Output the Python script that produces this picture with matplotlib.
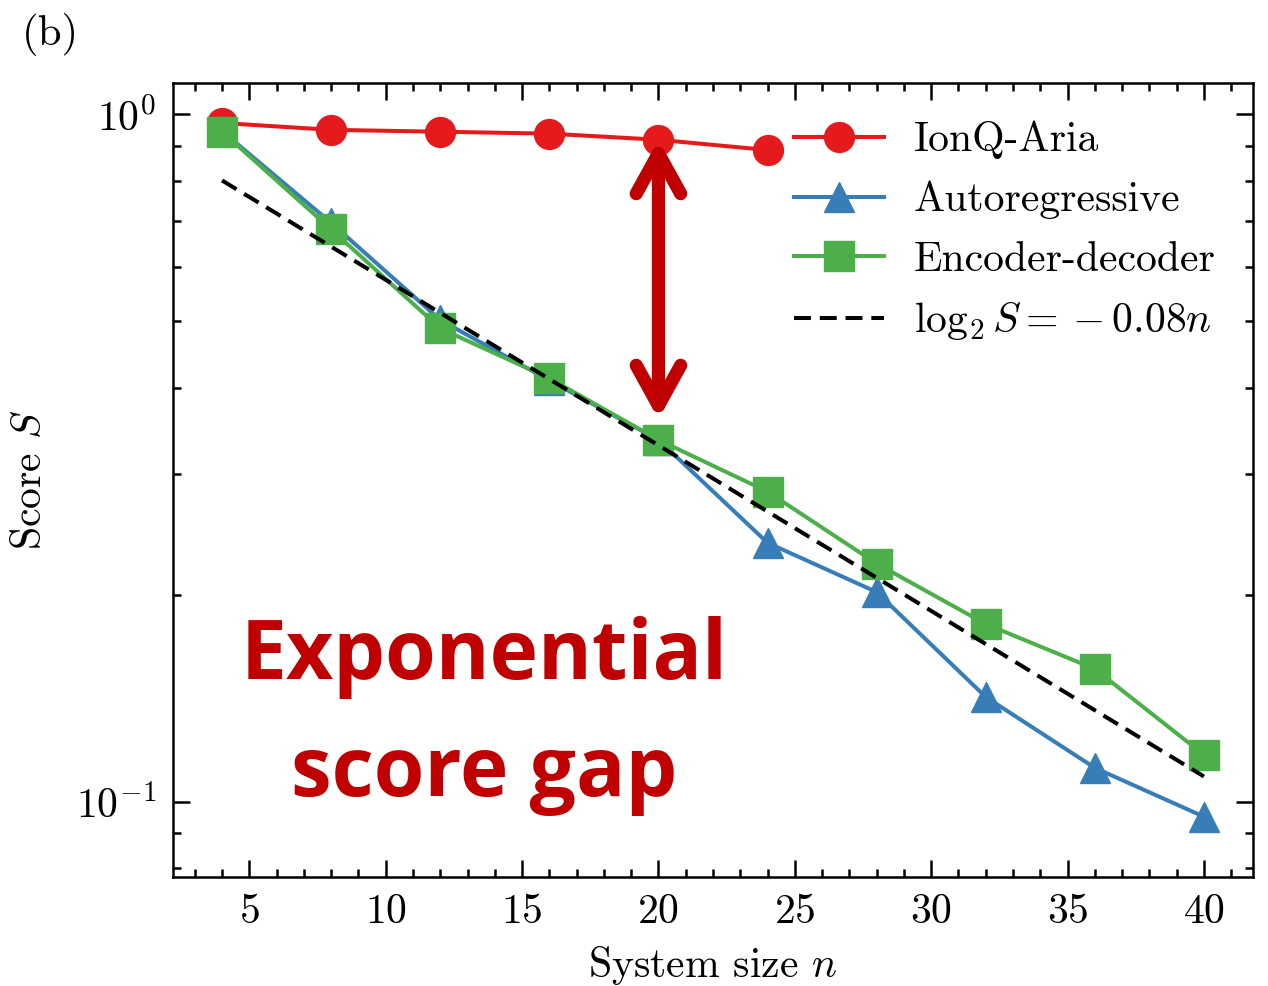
import numpy as np
import matplotlib
matplotlib.use("Agg")
import matplotlib.pyplot as plt
from matplotlib.ticker import MultipleLocator, LogLocator, NullFormatter

# ---- data ----
n = [4, 8, 12, 16, 20, 24, 28, 32, 36, 40]
n_ionq = [4, 8, 12, 16, 20, 24]
ionq = [0.971, 0.949, 0.943, 0.937, 0.918, 0.887]
autoreg = [0.945, 0.695, 0.502, 0.41, 0.336, 0.238, 0.2018, 0.142, 0.112, 0.0951]
encdec = [0.943, 0.680, 0.488, 0.413, 0.336, 0.2825, 0.222, 0.1813, 0.156, 0.117]
fit_slope = -0.08
labels = ["IonQ-Aria", "Autoregressive", "Encoder-decoder", r"$\log_2 S = {}-0.08n$"]
arrow_n = 20
arrow_top = 0.918
arrow_bottom = 0.360

plt.rcParams.update({
    "font.family": "serif",
    "font.serif": ["cmr10"],
    "mathtext.fontset": "cm",
    "axes.formatter.use_mathtext": True,
    "font.size": 30,
    "axes.unicode_minus": True,
})

fig = plt.figure(figsize=(12.68, 9.86), dpi=100)
ax = fig.add_axes([0.1364, 0.1105, 0.9882 - 0.1364, 0.9155 - 0.1105])

ax.plot(n_ionq, ionq, "-o", color="#e41a1c", lw=2.9, ms=21.5, label=labels[0])
ax.plot(n, autoreg, "-^", color="#377eb8", lw=2.9, ms=22, label=labels[1])
ax.plot(n, encdec, "-s", color="#4daf4a", lw=2.9, ms=21, label=labels[2])
nn = np.array(n, dtype=float)
ax.plot(nn, 2.0 ** (fit_slope * nn), "--", color="black", lw=2.9, dashes=(4.2, 2.2), label=labels[3])

ax.annotate("", xy=(arrow_n, arrow_bottom), xytext=(arrow_n, arrow_top),
            arrowprops=dict(arrowstyle="<->,head_length=0.29,head_width=0.16",
                            lw=9.5, color="#c00000", mutation_scale=100,
                            shrinkA=0, shrinkB=0, capstyle="round", joinstyle="round"),
            zorder=5)

ax.text(13.6, 0.1333, "Exponential\nscore gap", ha="center", va="center",
        family="Open Sans", weight="bold", fontsize=59, color="#c00000",
        linespacing=1.53)

ax.set_yscale("log")
ax.set_xlim(2.2, 41.8)
ax.set_ylim(0.0777, 1.109)
ax.xaxis.set_major_locator(MultipleLocator(5))
ax.xaxis.set_minor_locator(MultipleLocator(1))
ax.yaxis.set_major_locator(LogLocator(base=10))
ax.yaxis.set_minor_locator(LogLocator(base=10, subs=np.arange(2, 10)))
ax.yaxis.set_minor_formatter(NullFormatter())

for sp in ax.spines.values():
    sp.set_linewidth(1.8)
ax.tick_params(which="both", direction="in", top=True, right=True, width=1.8)
ax.tick_params(which="major", length=12, pad=12)
ax.tick_params(which="minor", length=6)

ax.set_xlabel(r"System size $n$", labelpad=9)
ax.set_ylabel(r"Score $S$", labelpad=19)

ax.legend(loc="upper right", frameon=False, handlelength=2.15, handletextpad=0.72,
          labelspacing=0.52, borderaxespad=0.5, numpoints=1)

fig.text(0.017, 1 - 45 / 986, "(b)", fontsize=31, va="baseline")

fig.savefig("out.png", dpi=100)
